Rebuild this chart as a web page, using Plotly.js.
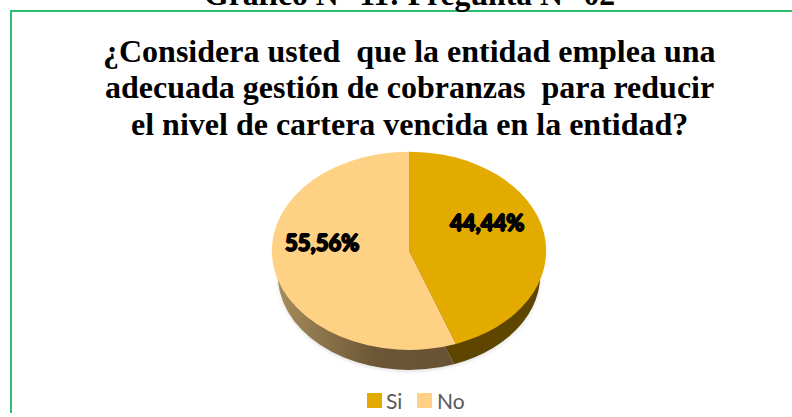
<!DOCTYPE html>
<html><head><meta charset="utf-8">
<script src="https://cdn.plot.ly/plotly-3.0.1.min.js"></script>
<style>html,body{margin:0;padding:0;background:#fff;overflow:hidden}#c{width:792px;height:417px}</style>
</head><body><div id="c"></div>
<script>
const categories = ['Si', 'No'];
const values = [44.44, 55.56];
const topColors = ['#E3AB00', '#FFD184'];
const sideColors = ['#5E4500', '#7A6440'];
const titleLines = ['¿Considera usted  que la entidad emplea una', 'adecuada gestión de cobranzas  para reducir', 'el nivel de cartera vencida en la entidad?'];
const headerText = 'Gráfico N° 11: Pregunta N° 02';
const labelText = values.map(v => v.toFixed(2).replace('.', ',') + '%');
const legendSwatchCenters = [374.5, 424.5];
const legendTextLefts = [386, 437];
const legendCenterY = 400.5;

const W = 792, H = 417;
// circular pies, flattened to ellipses after drawing
const cx = 409, cy = 252.5, rx = 137, ry = 99, sq = ry / rx, pad = 1.5;
const sideR = 131, sideCy = 277, shadowR = 131, shadowCy = 279;
const dom = (cxx, cyy, r) => ({
  x: [(cxx - r - pad) / W, (cxx + r + pad) / W],
  y: [1 - (cyy + r + pad) / H, 1 - (cyy - r - pad) / H]
});
const pie = (colors, c) => ({
  type: 'pie', labels: categories, values, sort: false, direction: 'clockwise', rotation: 0,
  textinfo: 'none', hoverinfo: 'skip', domain: c,
  marker: {colors, line: {width: 0}}
});
const data = [
  pie(['rgba(0,0,0,0.10)', 'rgba(0,0,0,0.10)'], dom(cx, shadowCy, shadowR)),
  pie(sideColors, dom(cx, sideCy, sideR)),
  pie(topColors, dom(cx, cy, rx))
];
data[2].showlegend = true; data[0].showlegend = false; data[1].showlegend = false;

const px = x => x / W, py = y => 1 - y / H;
const serif = '"Liberation Serif", serif';
const labelFont = '"Lato", sans-serif';
const labelShadow = '1px 0 0 #000, -1px 0 0 #000, 0 1px 0 #000, 0 -1px 0 #000';
const ann = (text, x, y, size, family, color, extra) => Object.assign({
  text, x: px(x), y: py(y), xref: 'paper', yref: 'paper', showarrow: false,
  xanchor: 'center', yanchor: 'middle', font: {size, family, color}
}, extra || {});
const annotations = [
  ann('<b>' + headerText + '</b>', 410, -6, 31.7, serif, '#000'),
  ann('<b>' + titleLines[0] + '</b>', 409, 51, 32, serif, '#000'),
  ann('<b>' + titleLines[1] + '</b>', 409, 88, 32, serif, '#000'),
  ann('<b>' + titleLines[2] + '</b>', 409, 125, 32, serif, '#000'),
  ann('<b>' + labelText[0] + '</b>', 486.5, 224.5, 22, labelFont, '#000'),
  ann('<b>' + labelText[1] + '</b>', 322, 245, 22, labelFont, '#000')
];
annotations[4].font.shadow = labelShadow;
annotations[5].font.shadow = labelShadow;
const layout = {
  width: W, height: H, margin: {l: 0, r: 0, t: 0, b: 0},
  paper_bgcolor: '#fff', plot_bgcolor: '#fff',
  showlegend: true,
  legend: {orientation: 'h', x: 0.52, xanchor: 'center', y: 1 - 400 / H, yanchor: 'middle',
    font: {family: labelFont, size: 21, color: '#595959'}, itemclick: false, itemwidth: 30},
  shapes: [
    {type: 'line', xref: 'paper', yref: 'paper', x0: px(11), x1: px(11), y0: 0, y1: py(11), line: {color: '#2CBF6F', width: 2}},
    {type: 'line', xref: 'paper', yref: 'paper', x0: px(10), x1: 1, y0: py(11), y1: py(11), line: {color: '#2CBF6F', width: 2}}
  ],
  annotations
};
Plotly.newPlot('c', data, layout, {displayModeBar: false, staticPlot: true}).then(gd => {
  const svg = gd.querySelector('.main-svg');
  const ns = 'http://www.w3.org/2000/svg';
  const defs = svg.querySelector('defs') || svg.insertBefore(document.createElementNS(ns, 'defs'), svg.firstChild);
  const g = document.createElementNS(ns, 'linearGradient');
  g.id = 'sideNo';
  [[0, '#A68D5C'], [0.55, '#6C5636'], [1, '#675235']].forEach(([o, c]) => {
    const s = document.createElementNS(ns, 'stop');
    s.setAttribute('offset', o); s.setAttribute('stop-color', c); g.appendChild(s);
  });
  defs.appendChild(g);
  const traces = gd.querySelectorAll('.pielayer .trace');
  traces.forEach((t, i) => {
    const ty = [shadowCy, sideCy, cy][i];
    t.setAttribute('transform', `translate(0,${ty}) scale(1,${sq}) translate(0,${-ty})`);
  });
  traces[1].querySelectorAll('path.surface')[1].style.fill = 'url(#sideNo)';
  traces[0].style.filter = 'blur(2px)';
  gd.querySelectorAll('.legend .traces').forEach((item, i) => {
    const sw = item.querySelector('.legendpie');
    const tx = item.querySelector('.legendtext');
    sw.setAttribute('transform', (sw.getAttribute('transform') || '') + ' scale(1.25)');
    const r = sw.getBoundingClientRect();
    const dx = legendSwatchCenters[i] - (r.left + r.width / 2);
    const dy = legendCenterY - (r.top + r.height / 2);
    const m = /translate\(([-\d.]+)[ ,]+([-\d.]+)\)/.exec(item.getAttribute('transform'));
    item.setAttribute('transform', `translate(${+m[1] + dx},${+m[2] + dy})`);
    const t = tx.getBoundingClientRect();
    tx.setAttribute('x', +tx.getAttribute('x') + legendTextLefts[i] - t.left);
    tx.querySelectorAll('tspan').forEach(s => s.hasAttribute('x') && s.setAttribute('x', tx.getAttribute('x')));
  });
});
</script></body></html>
